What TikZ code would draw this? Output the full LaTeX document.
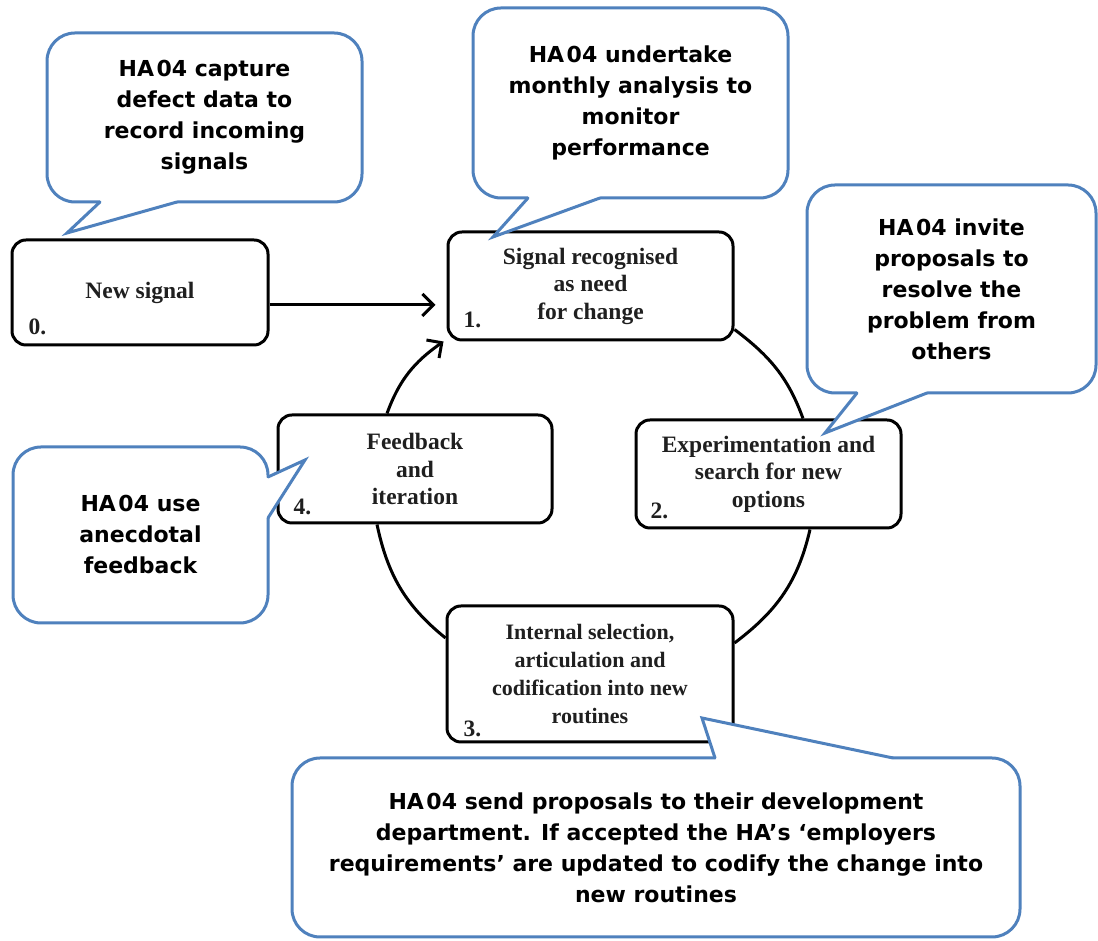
\documentclass[tikz,border=0pt]{standalone}
\usepackage{fontspec}
\setmainfont{Liberation Serif}
\newfontfamily\calloutfont{DejaVu Sans}
\usetikzlibrary{arrows.meta}
\definecolor{callblue}{RGB}{79,129,189}
\newcommand\hacode{HA\kern2.5pt 04}
\begin{document}
\begin{tikzpicture}[x=1pt,y=1pt,
  stage/.style={draw=black, line width=3pt, rounded corners=14pt, fill=white,
    inner sep=0pt, align=center, text=black!88,
    font=\bfseries\fontsize{23.5}{27.5}\selectfont},
  num/.style={anchor=base west, inner sep=0pt, text=black!88,
    font=\bfseries\fontsize{23.5}{27.5}\selectfont},
  bubble/.style={draw=callblue, line width=3pt, rounded corners=28pt, fill=white,
    inner sep=0pt, align=center,
    font=\calloutfont\bfseries\fontsize{22}{31}\selectfont},
  tailline/.style={draw=callblue, line width=3pt, line join=miter, line cap=round},
  link/.style={line width=3pt},
  arr/.style={line width=3pt, -{Straight Barb[length=11pt,width=22pt]}},
]
\useasboundingbox (0,0) rectangle (1098,941);

% ---- stages of the cycle ----
\node[stage, minimum width=256pt, minimum height=105pt] (b0) at (140,648.5) {New signal};
\node[stage, minimum width=285pt, minimum height=108pt] (b1) at (590.5,655)
  {Signal recognised\\as need\\for change};
\node[stage, minimum width=265pt, minimum height=108pt] (b2) at (768.5,467)
  {Experimentation and\\search for new\\options};
\node[stage, minimum width=286pt, minimum height=136pt,
  font=\bfseries\fontsize{22}{28}\selectfont] (b3) at (590,267)
  {Internal selection,\\articulation and\\codification into new\\routines};
\node[stage, minimum width=274pt, minimum height=108pt] (b4) at (415,472)
  {Feedback\\and\\iteration};

% step numbers
\node[num] (n0) at ([shift={(18pt,12pt)}]b0.south west) {0.};
\node[num] (n1) at ([shift={(17pt,14pt)}]b1.south west) {1.};
\node[num] (n2) at ([shift={(16pt,11pt)}]b2.south west) {2.};
\node[num] (n3) at ([shift={(18pt,7pt)}]b3.south west) {3.};
\node[num] (n4) at ([shift={(17pt,10pt)}]b4.south west) {4.};

% ---- connectors ----
\draw[arr] ([yshift=-12.5pt]b0.east) coordinate (a0) -- ([xshift=-11pt]a0 -| b1.west);
\draw[link] ([yshift=12pt]b1.south east) to[out=-37,in=110] ([xshift=34.5pt]b2.north);
\draw[link] ([xshift=41.5pt]b2.south) to[out=-103,in=37] ([yshift=31pt]b3.east);
\draw[link] ([yshift=36pt]b3.west) to[out=141,in=-78] ([xshift=-38pt]b4.south);
\draw[arr] ([xshift=-28pt]b4.north) to[out=70,in=215] ([xshift=-3pt]b1.south west);

% ---- callouts ----
\node[bubble, minimum width=315pt, minimum height=169pt] (c0) at (204.5,823.5)
  {\hacode{} capture\\defect data to\\record incoming\\signals};
\coordinate (t0) at (67,708);
\fill[white] (100,739) -- (t0) -- (177,739) -- (177,742.5) -- (100,742.5) -- cycle;
\draw[tailline] (100,739) -- (t0) -- (177,739);

\node[bubble, minimum width=315pt, minimum height=190pt] (c1) at (630.5,838)
  {\hacode{} undertake\\monthly analysis to\\monitor\\performance};
\coordinate (t1) at (493,704);
\fill[white] (528,743) -- (t1) -- (600,743) -- (600,746.5) -- (528,746.5) -- cycle;
\draw[tailline] (528,743) -- (t1) -- (600,743);

\node[bubble, minimum width=289pt, minimum height=208pt] (c2) at (951.5,652)
  {\hacode{} invite\\proposals to\\resolve the\\problem from\\others};
\coordinate (t2) at (825,508);
\fill[white] (857,548) -- (t2) -- (927,548) -- (927,551.5) -- (857,551.5) -- cycle;
\draw[tailline] (857,548) -- (t2) -- (927,548);

\node[bubble, minimum width=255pt, minimum height=176pt] (c4) at (140.5,406)
  {\hacode{} use\\anecdotal\\feedback};
\coordinate (t4) at (305,481);
\fill[white] (268,464) -- (t4) -- (268,423) -- (264.5,423) -- (264.5,464) -- cycle;
\draw[tailline] (268,464) -- (t4) -- (268,423);

\node[bubble, minimum width=728pt, minimum height=179pt] (c3) at (656,93.5)
  {\hacode{} send proposals to their development\\department. If accepted the HA’s ‘employers\\requirements’ are updated to codify the change into\\new routines};
\coordinate (t3) at (702,223);
\fill[white] (715,183) -- (t3) -- (893,183) -- (893,179.5) -- (715,179.5) -- cycle;
\draw[tailline] (715,183) -- (t3) -- (893,183);
\end{tikzpicture}
\end{document}
